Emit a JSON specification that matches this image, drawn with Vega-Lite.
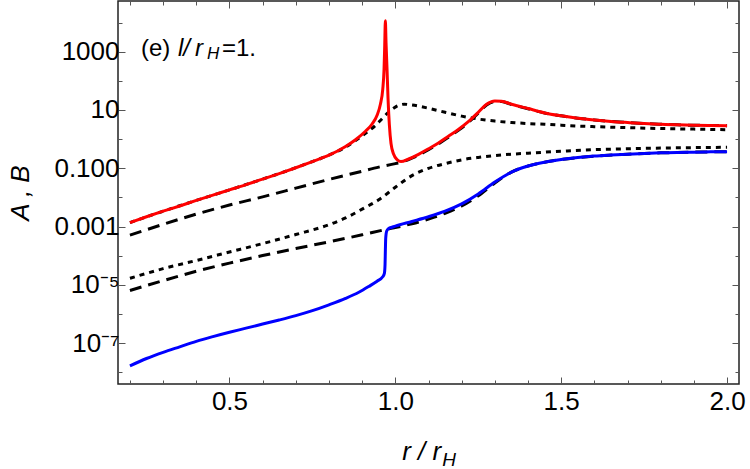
{
  "$schema": "https://vega.github.io/schema/vega-lite/v6.json",
  "width": 621,
  "height": 383,
  "autosize": {"type": "none"},
  "padding": {"left": 118, "top": 1, "right": 11, "bottom": 85},
  "config": {
    "font": "Liberation Sans",
    "view": {"stroke": "#222222", "strokeWidth": 1.5}
  },
  "datasets": {
    "curves": [
      {"s": "A", "x": 0.2, "y": 1.38e-3}, {"s": "A", "x": 0.25, "y": 2.19e-3}, {"s": "A", "x": 0.3, "y": 3.39e-3},
      {"s": "A", "x": 0.35, "y": 5.13e-3}, {"s": "A", "x": 0.4, "y": 7.94e-3}, {"s": "A", "x": 0.45, "y": 1.20e-2},
      {"s": "A", "x": 0.5, "y": 1.82e-2}, {"s": "A", "x": 0.55, "y": 2.75e-2}, {"s": "A", "x": 0.6, "y": 4.27e-2},
      {"s": "A", "x": 0.65, "y": 6.61e-2}, {"s": "A", "x": 0.7, "y": 0.105}, {"s": "A", "x": 0.75, "y": 0.170},
      {"s": "A", "x": 0.8, "y": 0.282}, {"s": "A", "x": 0.85, "y": 0.562}, {"s": "A", "x": 0.88, "y": 0.955},
      {"s": "A", "x": 0.91, "y": 1.86}, {"s": "A", "x": 0.93, "y": 3.31}, {"s": "A", "x": 0.945, "y": 6.61},
      {"s": "A", "x": 0.955, "y": 15.8}, {"s": "A", "x": 0.962, "y": 50.1}, {"s": "A", "x": 0.966, "y": 251},
      {"s": "A", "x": 0.968, "y": 1585}, {"s": "A", "x": 0.97, "y": 11480}, {"s": "A", "x": 0.972, "y": 1995},
      {"s": "A", "x": 0.975, "y": 251}, {"s": "A", "x": 0.978, "y": 25.1}, {"s": "A", "x": 0.982, "y": 3.16},
      {"s": "A", "x": 0.987, "y": 0.708}, {"s": "A", "x": 0.995, "y": 0.302}, {"s": "A", "x": 1.005, "y": 0.2},
      {"s": "A", "x": 1.017, "y": 0.17}, {"s": "A", "x": 1.04, "y": 0.209}, {"s": "A", "x": 1.07, "y": 0.302},
      {"s": "A", "x": 1.1, "y": 0.468}, {"s": "A", "x": 1.13, "y": 0.741}, {"s": "A", "x": 1.16, "y": 1.26},
      {"s": "A", "x": 1.19, "y": 2.14}, {"s": "A", "x": 1.22, "y": 3.98}, {"s": "A", "x": 1.25, "y": 8.32},
      {"s": "A", "x": 1.275, "y": 15.8}, {"s": "A", "x": 1.3, "y": 20.4}, {"s": "A", "x": 1.32, "y": 20.0},
      {"s": "A", "x": 1.35, "y": 15.8}, {"s": "A", "x": 1.4, "y": 11.2}, {"s": "A", "x": 1.45, "y": 7.94},
      {"s": "A", "x": 1.5, "y": 6.31}, {"s": "A", "x": 1.55, "y": 5.25}, {"s": "A", "x": 1.6, "y": 4.57},
      {"s": "A", "x": 1.65, "y": 4.07}, {"s": "A", "x": 1.7, "y": 3.72}, {"s": "A", "x": 1.75, "y": 3.43},
      {"s": "A", "x": 1.8, "y": 3.24}, {"s": "A", "x": 1.85, "y": 3.09}, {"s": "A", "x": 1.9, "y": 3.0},
      {"s": "A", "x": 1.95, "y": 2.94}, {"s": "A", "x": 2.0, "y": 2.9},

      {"s": "B", "x": 0.2, "y": 1.70e-8}, {"s": "B", "x": 0.25, "y": 3.02e-8}, {"s": "B", "x": 0.3, "y": 4.90e-8},
      {"s": "B", "x": 0.35, "y": 7.59e-8}, {"s": "B", "x": 0.4, "y": 1.17e-7}, {"s": "B", "x": 0.45, "y": 1.70e-7},
      {"s": "B", "x": 0.5, "y": 2.40e-7}, {"s": "B", "x": 0.55, "y": 3.31e-7}, {"s": "B", "x": 0.6, "y": 4.57e-7},
      {"s": "B", "x": 0.65, "y": 6.31e-7}, {"s": "B", "x": 0.7, "y": 8.91e-7}, {"s": "B", "x": 0.75, "y": 1.32e-6},
      {"s": "B", "x": 0.8, "y": 2.09e-6}, {"s": "B", "x": 0.85, "y": 3.47e-6}, {"s": "B", "x": 0.89, "y": 5.62e-6},
      {"s": "B", "x": 0.92, "y": 8.91e-6}, {"s": "B", "x": 0.945, "y": 1.35e-5}, {"s": "B", "x": 0.962, "y": 1.91e-5},
      {"s": "B", "x": 0.967, "y": 2.51e-5}, {"s": "B", "x": 0.969, "y": 5.01e-5}, {"s": "B", "x": 0.97, "y": 1.58e-4},
      {"s": "B", "x": 0.971, "y": 3.98e-4}, {"s": "B", "x": 0.974, "y": 7.08e-4}, {"s": "B", "x": 0.98, "y": 8.71e-4},
      {"s": "B", "x": 0.99, "y": 9.55e-4}, {"s": "B", "x": 1.0, "y": 1.05e-3}, {"s": "B", "x": 1.05, "y": 1.51e-3},
      {"s": "B", "x": 1.1, "y": 2.19e-3}, {"s": "B", "x": 1.15, "y": 3.39e-3}, {"s": "B", "x": 1.2, "y": 6.03e-3},
      {"s": "B", "x": 1.25, "y": 1.32e-2}, {"s": "B", "x": 1.3, "y": 3.39e-2}, {"s": "B", "x": 1.35, "y": 7.41e-2},
      {"s": "B", "x": 1.4, "y": 0.12}, {"s": "B", "x": 1.45, "y": 0.162}, {"s": "B", "x": 1.5, "y": 0.2},
      {"s": "B", "x": 1.55, "y": 0.234}, {"s": "B", "x": 1.6, "y": 0.263}, {"s": "B", "x": 1.65, "y": 0.285},
      {"s": "B", "x": 1.7, "y": 0.305}, {"s": "B", "x": 1.75, "y": 0.324}, {"s": "B", "x": 1.8, "y": 0.339},
      {"s": "B", "x": 1.85, "y": 0.351}, {"s": "B", "x": 1.9, "y": 0.359}, {"s": "B", "x": 1.95, "y": 0.367},
      {"s": "B", "x": 2.0, "y": 0.372},

      {"s": "A1", "x": 0.2, "y": 5.13e-4}, {"s": "A1", "x": 0.3, "y": 1.20e-3}, {"s": "A1", "x": 0.4, "y": 2.69e-3},
      {"s": "A1", "x": 0.5, "y": 5.50e-3}, {"s": "A1", "x": 0.6, "y": 1.05e-2}, {"s": "A1", "x": 0.7, "y": 2.09e-2},
      {"s": "A1", "x": 0.8, "y": 4.17e-2}, {"s": "A1", "x": 0.9, "y": 7.94e-2}, {"s": "A1", "x": 0.95, "y": 0.11},
      {"s": "A1", "x": 1.0, "y": 0.145}, {"s": "A1", "x": 1.017, "y": 0.162}, {"s": "A1", "x": 1.04, "y": 0.2},
      {"s": "A1", "x": 1.07, "y": 0.282}, {"s": "A1", "x": 1.1, "y": 0.437}, {"s": "A1", "x": 1.13, "y": 0.692},
      {"s": "A1", "x": 1.16, "y": 1.17}, {"s": "A1", "x": 1.19, "y": 2.0}, {"s": "A1", "x": 1.22, "y": 3.72},
      {"s": "A1", "x": 1.25, "y": 7.76}, {"s": "A1", "x": 1.275, "y": 14.8}, {"s": "A1", "x": 1.3, "y": 19.5},
      {"s": "A1", "x": 1.32, "y": 19.5}, {"s": "A1", "x": 1.35, "y": 15.5}, {"s": "A1", "x": 1.4, "y": 11.0},
      {"s": "A1", "x": 1.45, "y": 7.94}, {"s": "A1", "x": 1.5, "y": 6.31}, {"s": "A1", "x": 1.55, "y": 5.25},
      {"s": "A1", "x": 1.6, "y": 4.57}, {"s": "A1", "x": 1.65, "y": 4.07}, {"s": "A1", "x": 1.7, "y": 3.72},
      {"s": "A1", "x": 1.75, "y": 3.43}, {"s": "A1", "x": 1.8, "y": 3.24}, {"s": "A1", "x": 1.85, "y": 3.09},
      {"s": "A1", "x": 1.9, "y": 3.0}, {"s": "A1", "x": 1.95, "y": 2.94}, {"s": "A1", "x": 2.0, "y": 2.9},

      {"s": "A2", "x": 0.2, "y": 1.38e-3}, {"s": "A2", "x": 0.3, "y": 3.39e-3}, {"s": "A2", "x": 0.4, "y": 7.94e-3},
      {"s": "A2", "x": 0.5, "y": 1.82e-2}, {"s": "A2", "x": 0.6, "y": 4.27e-2}, {"s": "A2", "x": 0.7, "y": 0.105},
      {"s": "A2", "x": 0.75, "y": 0.170}, {"s": "A2", "x": 0.8, "y": 0.282}, {"s": "A2", "x": 0.85, "y": 0.537},
      {"s": "A2", "x": 0.88, "y": 0.891}, {"s": "A2", "x": 0.91, "y": 1.58}, {"s": "A2", "x": 0.94, "y": 2.95},
      {"s": "A2", "x": 0.96, "y": 5.01}, {"s": "A2", "x": 0.98, "y": 8.51}, {"s": "A2", "x": 1.0, "y": 12.6},
      {"s": "A2", "x": 1.027, "y": 15.8}, {"s": "A2", "x": 1.05, "y": 14.8}, {"s": "A2", "x": 1.1, "y": 11.5},
      {"s": "A2", "x": 1.15, "y": 8.32}, {"s": "A2", "x": 1.2, "y": 6.17}, {"s": "A2", "x": 1.25, "y": 4.9},
      {"s": "A2", "x": 1.3, "y": 4.17}, {"s": "A2", "x": 1.35, "y": 3.72}, {"s": "A2", "x": 1.4, "y": 3.43},
      {"s": "A2", "x": 1.45, "y": 3.24}, {"s": "A2", "x": 1.5, "y": 3.02}, {"s": "A2", "x": 1.55, "y": 2.82},
      {"s": "A2", "x": 1.6, "y": 2.69}, {"s": "A2", "x": 1.65, "y": 2.57}, {"s": "A2", "x": 1.7, "y": 2.48},
      {"s": "A2", "x": 1.8, "y": 2.32}, {"s": "A2", "x": 1.9, "y": 2.21}, {"s": "A2", "x": 2.0, "y": 2.11},

      {"s": "B1", "x": 0.2, "y": 6.46e-6}, {"s": "B1", "x": 0.3, "y": 1.41e-5}, {"s": "B1", "x": 0.4, "y": 2.95e-5},
      {"s": "B1", "x": 0.5, "y": 5.62e-5}, {"s": "B1", "x": 0.6, "y": 1.02e-4}, {"s": "B1", "x": 0.7, "y": 1.78e-4},
      {"s": "B1", "x": 0.8, "y": 3.02e-4}, {"s": "B1", "x": 0.9, "y": 5.25e-4}, {"s": "B1", "x": 0.97, "y": 7.94e-4},
      {"s": "B1", "x": 1.0, "y": 9.33e-4}, {"s": "B1", "x": 1.05, "y": 1.26e-3}, {"s": "B1", "x": 1.1, "y": 1.82e-3},
      {"s": "B1", "x": 1.15, "y": 2.88e-3}, {"s": "B1", "x": 1.2, "y": 5.13e-3}, {"s": "B1", "x": 1.25, "y": 1.15e-2},
      {"s": "B1", "x": 1.3, "y": 3.16e-2}, {"s": "B1", "x": 1.35, "y": 7.41e-2}, {"s": "B1", "x": 1.4, "y": 0.12},
      {"s": "B1", "x": 1.45, "y": 0.162}, {"s": "B1", "x": 1.5, "y": 0.2}, {"s": "B1", "x": 1.6, "y": 0.263},
      {"s": "B1", "x": 1.7, "y": 0.305}, {"s": "B1", "x": 1.8, "y": 0.339}, {"s": "B1", "x": 1.9, "y": 0.359},
      {"s": "B1", "x": 2.0, "y": 0.372},

      {"s": "B2", "x": 0.2, "y": 1.70e-5}, {"s": "B2", "x": 0.3, "y": 3.63e-5}, {"s": "B2", "x": 0.4, "y": 6.92e-5},
      {"s": "B2", "x": 0.5, "y": 1.35e-4}, {"s": "B2", "x": 0.6, "y": 2.63e-4}, {"s": "B2", "x": 0.7, "y": 5.37e-4},
      {"s": "B2", "x": 0.8, "y": 1.17e-3}, {"s": "B2", "x": 0.85, "y": 2.0e-3}, {"s": "B2", "x": 0.9, "y": 3.98e-3},
      {"s": "B2", "x": 0.95, "y": 8.32e-3}, {"s": "B2", "x": 1.0, "y": 2.24e-2}, {"s": "B2", "x": 1.05, "y": 5.62e-2},
      {"s": "B2", "x": 1.1, "y": 0.1}, {"s": "B2", "x": 1.15, "y": 0.145}, {"s": "B2", "x": 1.2, "y": 0.195},
      {"s": "B2", "x": 1.25, "y": 0.237}, {"s": "B2", "x": 1.3, "y": 0.275}, {"s": "B2", "x": 1.35, "y": 0.305},
      {"s": "B2", "x": 1.4, "y": 0.331}, {"s": "B2", "x": 1.5, "y": 0.385}, {"s": "B2", "x": 1.6, "y": 0.437},
      {"s": "B2", "x": 1.7, "y": 0.468}, {"s": "B2", "x": 1.8, "y": 0.495}, {"s": "B2", "x": 1.9, "y": 0.513},
      {"s": "B2", "x": 2.0, "y": 0.525}
    ]
  },
  "resolve": {"axis": {"x": "independent", "y": "independent"}},
  "layer": [
    {
      "mark": {"type": "rule", "color": "#c8c8c8", "strokeWidth": 1.5},
      "encoding": {
        "x": {
          "datum": 1.0,
          "type": "quantitative",
          "scale": {"domain": [0.164, 2.036], "nice": false, "zero": false},
          "axis": {
            "orient": "top", "title": null, "grid": false, "domain": false,
            "values": [0.2, 0.3, 0.4, 0.6, 0.7, 0.8, 0.9, 1.1, 1.2, 1.3, 1.4, 1.6, 1.7, 1.8, 1.9],
            "labels": false, "tickSize": -4, "tickColor": "#555555", "tickWidth": 1
          }
        }
      }
    },
    {
      "data": {"name": "curves"},
      "transform": [{"filter": "datum.s === 'A1'"}],
      "mark": {"type": "line", "color": "#000000", "strokeWidth": 3, "strokeDash": [12, 7], "interpolate": "monotone"},
      "encoding": {
        "x": {
          "field": "x",
          "type": "quantitative",
          "scale": {"domain": [0.164, 2.036], "nice": false, "zero": false},
          "axis": {
            "orient": "bottom", "title": null, "grid": false, "domain": false,
            "values": [0.5, 1.0, 1.5, 2.0], "format": ".1f",
            "labelFont": "Liberation Sans", "labelFontSize": 26, "labelColor": "#000000", "labelFlush": false, "labelOverlap": false,
            "labelPadding": 11, "tickSize": -7, "tickColor": "#555555", "tickWidth": 1
          }
        },
        "y": {
          "field": "y",
          "type": "quantitative",
          "scale": {"type": "log", "domain": [4.03e-9, 54600], "nice": false},
          "axis": {
            "orient": "left", "grid": false, "domain": false,
            "title": "A , B", "titleFont": "Liberation Sans", "titleFontSize": 26, "titleFontWeight": "normal", "titleFontStyle": "italic", "titleColor": "#000000", "titlePadding": 20,
            "values": [1e-7, 1e-5, 1e-3, 1e-1, 10, 1000],
            "labelExpr": "round(log(datum.value)/LN10) == 3 ? '1000' : round(log(datum.value)/LN10) == 1 ? '10' : round(log(datum.value)/LN10) == -1 ? '0.100' : round(log(datum.value)/LN10) == -3 ? '0.001' : round(log(datum.value)/LN10) == -5 ? '10⁻⁵' : '10⁻⁷'",
            "labelFont": "Liberation Sans", "labelFontSize": 26, "labelColor": "#000000", "labelFlush": false, "labelOverlap": false,
            "labelPadding": 6, "tickSize": -7, "tickColor": "#555555", "tickWidth": 1
          }
        }
      }
    },
    {
      "data": {"name": "curves"},
      "transform": [{"filter": "datum.s === 'B1'"}],
      "mark": {"type": "line", "color": "#000000", "strokeWidth": 3, "strokeDash": [12, 7], "interpolate": "monotone"},
      "encoding": {
        "x": {
          "field": "x",
          "type": "quantitative",
          "axis": {
            "orient": "bottom", "title": null, "grid": false, "domain": false,
            "values": [0.2, 0.3, 0.4, 0.6, 0.7, 0.8, 0.9, 1.1, 1.2, 1.3, 1.4, 1.6, 1.7, 1.8, 1.9],
            "labels": false, "tickSize": -4, "tickColor": "#555555", "tickWidth": 1
          }
        },
        "y": {
          "field": "y",
          "type": "quantitative",
          "axis": {
            "orient": "left", "title": null, "grid": false, "domain": false,
            "values": [1e-8, 1e-6, 1e-4, 1e-2, 1, 100, 10000],
            "labels": false, "tickSize": -4, "tickColor": "#555555", "tickWidth": 1
          }
        }
      }
    },
    {
      "data": {"name": "curves"},
      "transform": [{"filter": "datum.s === 'A2'"}],
      "mark": {"type": "line", "color": "#000000", "strokeWidth": 3, "strokeDash": [5, 5], "interpolate": "monotone"},
      "encoding": {
        "x": {
          "field": "x",
          "type": "quantitative",
          "axis": {
            "orient": "top", "title": null, "grid": false, "domain": false,
            "values": [0.5, 1.0, 1.5, 2.0],
            "labels": false, "tickSize": -7, "tickColor": "#555555", "tickWidth": 1
          }
        },
        "y": {
          "field": "y",
          "type": "quantitative",
          "axis": {
            "orient": "right", "title": null, "grid": false, "domain": false,
            "values": [1e-7, 1e-5, 1e-3, 1e-1, 10, 1000],
            "labels": false, "tickSize": -7, "tickColor": "#555555", "tickWidth": 1
          }
        }
      }
    },
    {
      "data": {"name": "curves"},
      "transform": [{"filter": "datum.s === 'B2'"}],
      "mark": {"type": "line", "color": "#000000", "strokeWidth": 3, "strokeDash": [5, 5], "interpolate": "monotone"},
      "encoding": {
        "x": {"field": "x", "type": "quantitative", "axis": null},
        "y": {
          "field": "y",
          "type": "quantitative",
          "axis": {
            "orient": "right", "title": null, "grid": false, "domain": false,
            "values": [1e-8, 1e-6, 1e-4, 1e-2, 1, 100, 10000],
            "labels": false, "tickSize": -4, "tickColor": "#555555", "tickWidth": 1
          }
        }
      }
    },
    {
      "data": {"name": "curves"},
      "transform": [{"filter": "datum.s === 'A'"}],
      "mark": {"type": "line", "color": "#ff0000", "strokeWidth": 3, "interpolate": "monotone"},
      "encoding": {
        "x": {"field": "x", "type": "quantitative", "axis": null},
        "y": {"field": "y", "type": "quantitative", "axis": null}
      }
    },
    {
      "data": {"name": "curves"},
      "transform": [{"filter": "datum.s === 'B'"}],
      "mark": {"type": "line", "color": "#0000ff", "strokeWidth": 3, "interpolate": "monotone"},
      "encoding": {
        "x": {"field": "x", "type": "quantitative", "axis": null},
        "y": {"field": "y", "type": "quantitative", "axis": null}
      }
    },
    {
      "data": {"values": [{"t": "(e)"}]},
      "mark": {"type": "text", "font": "Liberation Sans", "fontSize": 24, "align": "left", "baseline": "alphabetic"},
      "encoding": {
        "text": {"field": "t"},
        "x": {"datum": 0.2332, "type": "quantitative", "axis": null},
        "y": {"datum": 708, "type": "quantitative", "axis": null}
      }
    },
    {
      "data": {"values": [{"t": "l/"}]},
      "mark": {"type": "text", "font": "Liberation Sans", "fontSize": 24, "fontStyle": "italic", "align": "left", "baseline": "alphabetic", "dx": 37},
      "encoding": {
        "text": {"field": "t"},
        "x": {"datum": 0.2332, "type": "quantitative", "axis": null},
        "y": {"datum": 708, "type": "quantitative", "axis": null}
      }
    },
    {
      "data": {"values": [{"t": "r"}]},
      "mark": {"type": "text", "font": "Liberation Sans", "fontSize": 24, "fontStyle": "italic", "align": "left", "baseline": "alphabetic", "dx": 54},
      "encoding": {
        "text": {"field": "t"},
        "x": {"datum": 0.2332, "type": "quantitative", "axis": null},
        "y": {"datum": 708, "type": "quantitative", "axis": null}
      }
    },
    {
      "data": {"values": [{"t": "H"}]},
      "mark": {"type": "text", "font": "Liberation Sans", "fontSize": 17, "fontStyle": "italic", "align": "left", "baseline": "alphabetic", "dx": 66, "dy": 3},
      "encoding": {
        "text": {"field": "t"},
        "x": {"datum": 0.2332, "type": "quantitative", "axis": null},
        "y": {"datum": 708, "type": "quantitative", "axis": null}
      }
    },
    {
      "data": {"values": [{"t": "=1."}]},
      "mark": {"type": "text", "font": "Liberation Sans", "fontSize": 24, "align": "left", "baseline": "alphabetic", "dx": 81},
      "encoding": {
        "text": {"field": "t"},
        "x": {"datum": 0.2332, "type": "quantitative", "axis": null},
        "y": {"datum": 708, "type": "quantitative", "axis": null}
      }
    },
    {
      "data": {"values": [{"t": "r / r"}]},
      "mark": {"type": "text", "font": "Liberation Sans", "fontSize": 26, "fontStyle": "italic", "align": "left", "baseline": "alphabetic", "dy": 76},
      "encoding": {
        "text": {"field": "t"},
        "x": {"datum": 1.0206, "type": "quantitative", "axis": null},
        "y": {"datum": 4.03e-9, "type": "quantitative", "axis": null}
      }
    },
    {
      "data": {"values": [{"t": "H"}]},
      "mark": {"type": "text", "font": "Liberation Sans", "fontSize": 19, "fontStyle": "italic", "align": "left", "baseline": "alphabetic", "dx": 40, "dy": 82},
      "encoding": {
        "text": {"field": "t"},
        "x": {"datum": 1.0206, "type": "quantitative", "axis": null},
        "y": {"datum": 4.03e-9, "type": "quantitative", "axis": null}
      }
    }
  ]
}
